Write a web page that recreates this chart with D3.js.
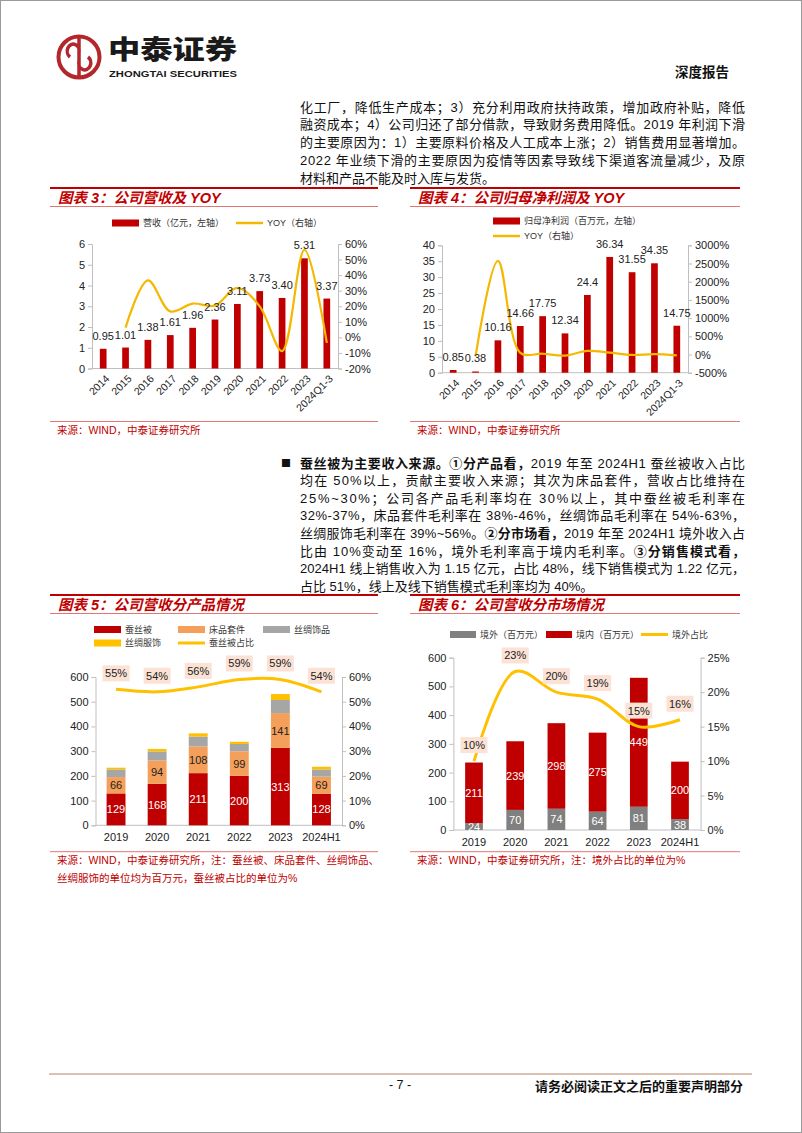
<!DOCTYPE html>
<html><head><meta charset="utf-8">
<script src="https://cdn.jsdelivr.net/npm/d3@7"></script>
<style>body{margin:0;background:#fff}svg{display:block}</style>
</head><body><svg id="page" width="802" height="1133"></svg>
<script>
// ---------- DATA ----------
const revYears = ["2014","2015","2016","2017","2018","2019","2020","2021","2022","2023","2024Q1-3"];
const revValues = [0.95,1.01,1.38,1.61,1.96,2.36,3.11,3.73,3.40,5.31,3.37];
const revYoy = [null,6.3,36.6,16.7,21.7,20.4,31.8,19.9,-8.8,56.2,-3.5];
const revLeftTicks = [0,1,2,3,4,5,6];
const revRightTicks = [-20,-10,0,10,20,30,40,50,60];

const npValues = [0.85,0.38,10.16,14.66,17.75,12.34,24.4,36.34,31.55,34.35,14.75];
const npYoy = [null,-55,2574,44,21,-30,98,49,-13,9,-25];
const npLeftTicks = [0,5,10,15,20,25,30,35,40];
const npRightTicks = [-500,0,500,1000,1500,2000,2500,3000];

const segYears = ["2019","2020","2021","2022","2023","2024H1"];
const quilt = [129,168,211,200,313,128];
const bedding = [66,94,108,99,141,69];
const silkAcc = [31,37,40,30,53,29];
const silkApparel = [7,10,13,9,24,11];
const quiltShare = [55,54,56,59,59,54];
const segLeftTicks = [0,100,200,300,400,500,600];
const segRightTicks = [0,10,20,30,40,50,60];

const overseas = [24,70,74,64,81,38];
const domestic = [211,239,298,275,449,200];
const overseasShare = [10,23,20,19,15,16];
const mktRightTicks = [0,5,10,15,20,25];

// ---------- STYLE ----------
const RED = "#c00000", ORANGE = "#f5a05a", GRAY5 = "#a6a6a6", GRAY6 = "#808080", YELLOW = "#ffc000", LINEY = "#f5b800";
const AXIS = "#bfbfbf";
const FN = "'Liberation Sans', Arial, 'Noto Sans CJK SC', sans-serif";
const FC = "'Noto Sans CJK SC', sans-serif";

const svg = d3.select("#page");
svg.append("rect").attr("x",0.5).attr("y",0.5).attr("width",801).attr("height",1132).attr("fill","#fff").attr("stroke","#9a9a9a");

// ---------- HEADER ----------
const logo = svg.append("g");
logo.append("circle").attr("cx",79).attr("cy",57).attr("r",20.5).attr("fill","none").attr("stroke","#b3262b").attr("stroke-width",4);
logo.append("path").attr("d","M79,38 L79,76 M70,57 a6,7 0 1 1 9,-4 M88,57 a6,7 0 1 1 -9,4").attr("fill","none").attr("stroke","#b3262b").attr("stroke-width",3.5);
logo.append("text").attr("x",108).attr("y",59).attr("font-family",FC).attr("font-weight",900).attr("font-size",26).attr("fill","#1a1a1a").attr("textLength",129).attr("lengthAdjust","spacingAndGlyphs").text("中泰证券");
logo.append("text").attr("x",109).attr("y",76.5).attr("font-family",FN).attr("font-weight",700).attr("font-size",9.5).attr("fill","#1a1a1a").attr("textLength",128).attr("lengthAdjust","spacingAndGlyphs").text("ZHONGTAI SECURITIES");
svg.append("text").attr("x",675).attr("y",71).attr("dominant-baseline","central").attr("font-family",FC).attr("font-weight",700).attr("font-size",13.5).attr("fill","#111").text("深度报告");

// ---------- PARAGRAPHS ----------
function para(lines, x, y0, lh, width) {
  lines.forEach((segs, i) => {
    const t = svg.append("text").attr("x",x).attr("y",y0+i*lh).attr("dominant-baseline","central")
      .attr("font-family",FN).attr("font-size",13).attr("fill","#111");
    if (i < lines.length-1) t.attr("textLength",width).attr("lengthAdjust","spacing");
    segs.forEach(s => t.append("tspan").attr("font-weight", s[1] ? 700 : 400).text(s[0]));
  });
}
para([
  [["化工厂，降低生产成本；3）充分利用政府扶持政策，增加政府补贴，降低"]],
  [["融资成本；4）公司归还了部分借款，导致财务费用降低。2019 年利润下滑"]],
  [["的主要原因为：1）主要原料价格及人工成本上涨；2）销售费用显著增加。"]],
  [["2022 年业绩下滑的主要原因为疫情等因素导致线下渠道客流量减少，及原"]],
  [["材料和产品不能及时入库与发货。"]]
], 300, 106.5, 17.8, 445);

svg.append("text").attr("x",281).attr("y",462.5).attr("dominant-baseline","central").attr("font-family",FC).attr("font-size",10).attr("fill","#111").text("■");
para([
  [["蚕丝被为主要收入来源。①分产品看，",1],["2019 年至 2024H1 蚕丝被收入占比"]],
  [["均在 50%以上，贡献主要收入来源；其次为床品套件，营收占比维持在"]],
  [["25%~30%；公司各产品毛利率均在 30%以上，其中蚕丝被毛利率在"]],
  [["32%-37%，床品套件毛利率在 38%-46%，丝绸饰品毛利率在 54%-63%，"]],
  [["丝绸服饰毛利率在 39%~56%。"],["②分市场看，",1],["2019 年至 2024H1 境外收入占"]],
  [["比由 10%变动至 16%，境外毛利率高于境内毛利率。"],["③分销售模式看，",1]],
  [["2024H1 线上销售收入为 1.15 亿元，占比 48%，线下销售模式为 1.22 亿元，"]],
  [["占比 51%，线上及线下销售模式毛利率均为 40%。"]]
], 300, 462.5, 17.6, 445);

// ---------- FRAME HELPERS ----------
function frame(x0, x1, yTop, title, ySrc, srcLines) {
  svg.append("line").attr("x1",x0).attr("x2",x1).attr("y1",yTop).attr("y2",yTop).attr("stroke",RED).attr("stroke-width",2);
  svg.append("text").attr("x",x0+8).attr("y",yTop+9.5).attr("dominant-baseline","central").attr("font-family",FN)
    .attr("font-size",14.5).attr("font-weight",700).attr("font-style","italic").attr("fill",RED).text(title);
  svg.append("line").attr("x1",x0).attr("x2",x1).attr("y1",yTop+18.5).attr("y2",yTop+18.5).attr("stroke","#d9534f").attr("stroke-width",0.8);
  svg.append("line").attr("x1",x0).attr("x2",x1).attr("y1",ySrc).attr("y2",ySrc).attr("stroke","#d9534f").attr("stroke-width",0.8);
  srcLines.forEach((s,i) => svg.append("text").attr("x",x0+7).attr("y",ySrc+8.5+i*17.5).attr("dominant-baseline","central")
    .attr("font-family",FN).attr("font-size",10.5).attr("fill",RED).text(s));
}
function legendRect(x, y, color, label, w) {
  svg.append("rect").attr("x",x).attr("y",y-3.5).attr("width",w||27).attr("height",7).attr("fill",color);
  svg.append("text").attr("x",x+(w||27)+4).attr("y",y).attr("dominant-baseline","central").attr("font-family",FN).attr("font-size",9).attr("fill","#333").text(label);
}
function legendLine(x, y, color, label, sw) {
  svg.append("line").attr("x1",x).attr("x2",x+27).attr("y1",y).attr("y2",y).attr("stroke",color).attr("stroke-width",sw||2.5);
  svg.append("text").attr("x",x+31).attr("y",y).attr("dominant-baseline","central").attr("font-family",FN).attr("font-size",9).attr("fill","#333").text(label);
}
function axes(g, x0, x1, yL, yR, lTicks, rTicks, lFmt, rFmt, yBottom) {
  const la = d3.axisLeft(yL).tickValues(lTicks).tickFormat(lFmt).tickSize(4).tickPadding(3);
  const ra = d3.axisRight(yR).tickValues(rTicks).tickFormat(rFmt).tickSize(4).tickPadding(3);
  const gl = g.append("g").attr("transform",`translate(${x0},0)`).call(la);
  const gr = g.append("g").attr("transform",`translate(${x1},0)`).call(ra);
  [gl,gr].forEach(a => {
    a.selectAll("path,line").attr("stroke",AXIS);
    a.selectAll("text").attr("font-family",FN).attr("font-size",11).attr("fill","#222");
  });
  g.append("line").attr("x1",x0).attr("x2",x1).attr("y1",yBottom).attr("y2",yBottom).attr("stroke",AXIS);
}
const pct = d => d + "%";

// ---------- CHART 3 / 4 ----------
function barLine(cfg) {
  const g = svg.append("g");
  const x = d3.scaleBand().domain(revYears).range([cfg.x0,cfg.x1]).paddingInner(0.7).paddingOuter(0.35);
  const yL = d3.scaleLinear().domain(cfg.lDom).range([cfg.yB,cfg.yT]);
  const yR = d3.scaleLinear().domain(cfg.rDom).range([cfg.yB,cfg.yT]);
  axes(g, cfg.x0, cfg.x1, yL, yR, cfg.lTicks, cfg.rTicks, d=>d, pct, cfg.yB);
  g.selectAll("rect.bar").data(cfg.values).join("rect").attr("class","bar")
    .attr("x",(d,i)=>x(revYears[i])).attr("width",x.bandwidth())
    .attr("y",d=>yL(d)).attr("height",d=>cfg.yB-yL(d)).attr("fill",RED);
  const line = d3.line().defined(d=>d!=null).x((d,i)=>x(revYears[i])+x.bandwidth()/2).y(d=>yR(d)).curve(d3.curveCatmullRom.alpha(0.5));
  g.append("path").attr("d",line(cfg.yoy)).attr("fill","none").attr("stroke",LINEY).attr("stroke-width",2.2);
  g.selectAll("text.lbl").data(cfg.values).join("text").attr("class","lbl")
    .attr("x",(d,i)=>x(revYears[i])+x.bandwidth()/2).attr("y",d=>yL(d)-13).attr("text-anchor","middle").attr("dominant-baseline","central")
    .attr("font-family",FN).attr("font-size",11).attr("fill","#222").text(cfg.fmt);
  g.selectAll("text.xl").data(revYears).join("text").attr("class","xl")
    .attr("transform",d=>`translate(${x(d)+x.bandwidth()/2+4},${cfg.yB+8}) rotate(-45)`)
    .attr("text-anchor","end").attr("dominant-baseline","central").attr("font-family",FN).attr("font-size",10.5).attr("fill","#222").text(d=>d);
}

frame(50, 378, 188, "图表 3：公司营收及 YOY", 421.5, ["来源：WIND，中泰证券研究所"]);
legendRect(112, 223, RED, "营收（亿元，左轴）");
legendLine(236, 223, LINEY, "YOY（右轴）");
barLine({x0:92, x1:338, yB:368.5, yT:244, lDom:[0,6], rDom:[-20,60], lTicks:revLeftTicks, rTicks:revRightTicks,
  values:revValues, yoy:revYoy, fmt:d=>d.toFixed(2)});

frame(410, 740, 188, "图表 4：公司归母净利润及 YOY", 421.5, ["来源：WIND，中泰证券研究所"]);
legendRect(493, 221, RED, "归母净利润（百万元，左轴）");
legendLine(493, 236, LINEY, "YOY（右轴）");
barLine({x0:442, x1:688, yB:372.7, yT:245.3, lDom:[0,40], rDom:[-500,3000], lTicks:npLeftTicks, rTicks:npRightTicks,
  values:npValues, yoy:npYoy, fmt:d=>String(d)});

// ---------- CHART 5 ----------
function shareLabels(g, x, yR, data) {
  const cx = (d,i)=>x(segYears[i])+x.bandwidth()/2;
  g.selectAll("rect.sb").data(data).join("rect").attr("class","sb")
    .attr("x",(d,i)=>cx(d,i)-13.5).attr("y",d=>yR(d)-16-8).attr("width",27).attr("height",16).attr("fill","#fbe2d5");
  g.selectAll("text.st").data(data).join("text").attr("class","st")
    .attr("x",cx).attr("y",d=>yR(d)-16).attr("text-anchor","middle").attr("dominant-baseline","central")
    .attr("font-family",FN).attr("font-size",11).attr("fill","#222").text(d=>d+"%");
}
{
  frame(50, 378, 595, "图表 5：公司营收分产品情况", 851.7,
    ["来源：WIND，中泰证券研究所，注：蚕丝被、床品套件、丝绸饰品、","丝绸服饰的单位均为百万元，蚕丝被占比的单位为%"]);
  legendRect(94, 629.5, RED, "蚕丝被");
  legendRect(178, 629.5, ORANGE, "床品套件");
  legendRect(263, 629.5, GRAY5, "丝绸饰品");
  legendRect(94, 643, YELLOW, "丝绸服饰");
  legendLine(178, 643, YELLOW, "蚕丝被占比", 3);
  const g = svg.append("g");
  const x0 = 95.5, x1 = 342, yB = 825.3, yT = 677;
  const x = d3.scaleBand().domain(segYears).range([x0,x1]).paddingInner(0.54).paddingOuter(0.27);
  const yL = d3.scaleLinear().domain([0,600]).range([yB,yT]);
  const yR = d3.scaleLinear().domain([0,60]).range([yB,yT]);
  axes(g, x0, x1, yL, yR, segLeftTicks, segRightTicks, d=>d, pct, yB);
  const table = segYears.map((y,i)=>({year:y, quilt:quilt[i], bedding:bedding[i], acc:silkAcc[i], app:silkApparel[i]}));
  const keys = ["quilt","bedding","acc","app"], colors = [RED, ORANGE, GRAY5, YELLOW];
  const series = d3.stack().keys(keys)(table);
  series.forEach((s,k) => {
    g.selectAll(null).data(s).join("rect").attr("x",d=>x(d.data.year)).attr("width",x.bandwidth())
      .attr("y",d=>yL(d[1])).attr("height",d=>yL(d[0])-yL(d[1])).attr("fill",colors[k]);
  });
  [0,1].forEach(k => {
    g.selectAll(null).data(series[k]).join("text").attr("x",d=>x(d.data.year)+x.bandwidth()/2)
      .attr("y",d=>(yL(d[0])+yL(d[1]))/2).attr("text-anchor","middle").attr("dominant-baseline","central")
      .attr("font-family",FN).attr("font-size",11).attr("fill",k===0?"#fff":"#222").text(d=>d[1]-d[0]);
  });
  const line = d3.line().x((d,i)=>x(segYears[i])+x.bandwidth()/2).y(d=>yR(d)).curve(d3.curveCatmullRom.alpha(0.5));
  g.append("path").attr("d",line(quiltShare)).attr("fill","none").attr("stroke",YELLOW).attr("stroke-width",3);
  shareLabels(g, x, yR, quiltShare);
  g.selectAll("text.xl").data(segYears).join("text").attr("x",d=>x(d)+x.bandwidth()/2).attr("y",yB+11.5)
    .attr("text-anchor","middle").attr("dominant-baseline","central").attr("font-family",FN).attr("font-size",11).attr("fill","#222").text(d=>d);
}

// ---------- CHART 6 ----------
{
  frame(410, 740, 595, "图表 6：公司营收分市场情况", 851.7, ["来源：WIND，中泰证券研究所，注：境外占比的单位为%"]);
  legendRect(450, 634.5, GRAY6, "境外（百万元）", 26);
  legendRect(546, 634.5, RED, "境内（百万元）", 26);
  legendLine(641, 634.5, YELLOW, "境外占比", 3);
  const g = svg.append("g");
  const x0 = 453.4, x1 = 700.6, yB = 830, yT = 657.7;
  const x = d3.scaleBand().domain(segYears).range([x0,x1]).paddingInner(0.57).paddingOuter(0.285);
  const yL = d3.scaleLinear().domain([0,600]).range([yB,yT]);
  const yR = d3.scaleLinear().domain([0,25]).range([yB,yT]);
  axes(g, x0, x1, yL, yR, segLeftTicks, mktRightTicks, d=>d, pct, yB);
  const table = segYears.map((y,i)=>({year:y, overseas:overseas[i], domestic:domestic[i]}));
  const series = d3.stack().keys(["overseas","domestic"])(table);
  const colors = [GRAY6, RED];
  series.forEach((s,k) => {
    g.selectAll(null).data(s).join("rect").attr("x",d=>x(d.data.year)).attr("width",x.bandwidth())
      .attr("y",d=>yL(d[1])).attr("height",d=>yL(d[0])-yL(d[1])).attr("fill",colors[k]);
    g.selectAll(null).data(s).join("text").attr("x",d=>x(d.data.year)+x.bandwidth()/2)
      .attr("y",d=>(yL(d[0])+yL(d[1]))/2).attr("text-anchor","middle").attr("dominant-baseline","central")
      .attr("font-family",FN).attr("font-size",11).attr("fill","#fff").text(d=>d[1]-d[0]);
  });
  const line = d3.line().x((d,i)=>x(segYears[i])+x.bandwidth()/2).y(d=>yR(d)).curve(d3.curveCatmullRom.alpha(0.5));
  g.append("path").attr("d",line(overseasShare)).attr("fill","none").attr("stroke",YELLOW).attr("stroke-width",3);
  shareLabels(g, x, yR, overseasShare);
  g.selectAll("text.xl").data(segYears).join("text").attr("x",d=>x(d)+x.bandwidth()/2).attr("y",yB+11.5)
    .attr("text-anchor","middle").attr("dominant-baseline","central").attr("font-family",FN).attr("font-size",11).attr("fill","#222").text(d=>d);
}

// ---------- FOOTER ----------
svg.append("line").attr("x1",49).attr("x2",752).attr("y1",1074).attr("y2",1074).attr("stroke","#dcc0b0").attr("stroke-width",2);
svg.append("text").attr("x",400).attr("y",1085).attr("text-anchor","middle").attr("dominant-baseline","central").attr("font-family",FN).attr("font-size",12.5).attr("fill","#111").text("- 7 -");
svg.append("text").attr("x",743).attr("y",1085).attr("text-anchor","end").attr("dominant-baseline","central").attr("font-family",FC).attr("font-weight",700).attr("font-size",13).attr("fill","#111").text("请务必阅读正文之后的重要声明部分");
</script></body></html>
